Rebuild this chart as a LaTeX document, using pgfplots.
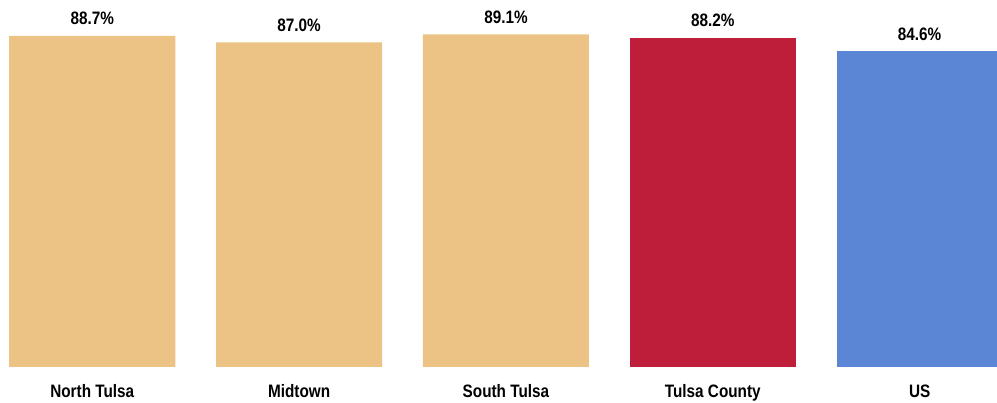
\documentclass[border=0pt]{standalone}
\usepackage{pgfplots}
\pgfplotsset{compat=1.18}
\usepackage{fontspec}
\setmainfont{Liberation Sans}[FakeStretch=0.85]
\definecolor{tan}{HTML}{ECC285}
\definecolor{cred}{HTML}{BE1E3A}
\definecolor{cblue}{HTML}{5B86D6}
\begin{document}
\begin{tikzpicture}
\begin{axis}[
  scale only axis,
  width=747.75pt, height=275.25pt,
  xmin=-0.446, xmax=4.374,
  ymin=0, ymax=98.34,
  ybar, bar width=0.803, bar shift=0pt,
  axis line style={draw=none},
  ytick=\empty,
  xtick={0,1,2,3,4},
  xticklabels={North Tulsa,Midtown,South Tulsa,Tulsa County,US},
  major tick length=0pt,
  xticklabel style={anchor=base, inner sep=0pt, yshift=-23.25pt, font=\fontsize{13.5}{16}\selectfont\bfseries},
  clip=false,
  /pgf/number format/assume math mode=true,
  nodes near coords={\pgfmathprintnumber[fixed,fixed zerofill,precision=1,assume math mode=true]{\pgfplotspointmeta}\%},
  every node near coord/.append style={anchor=base, inner sep=0pt, yshift=8.25pt, font=\fontsize{13.5}{16}\selectfont\bfseries, text=black},
]
\addplot[fill=tan, draw=none] coordinates {(0,88.7) (1,87.0) (2,89.1)};
\addplot[fill=cred, draw=none] coordinates {(3,88.2)};
\addplot[fill=cblue, draw=none] coordinates {(4,84.6)};
\end{axis}
\pgfresetboundingbox
\path (current axis.south west) ++(0,-27pt) rectangle (current axis.north east);
\end{tikzpicture}
\end{document}
